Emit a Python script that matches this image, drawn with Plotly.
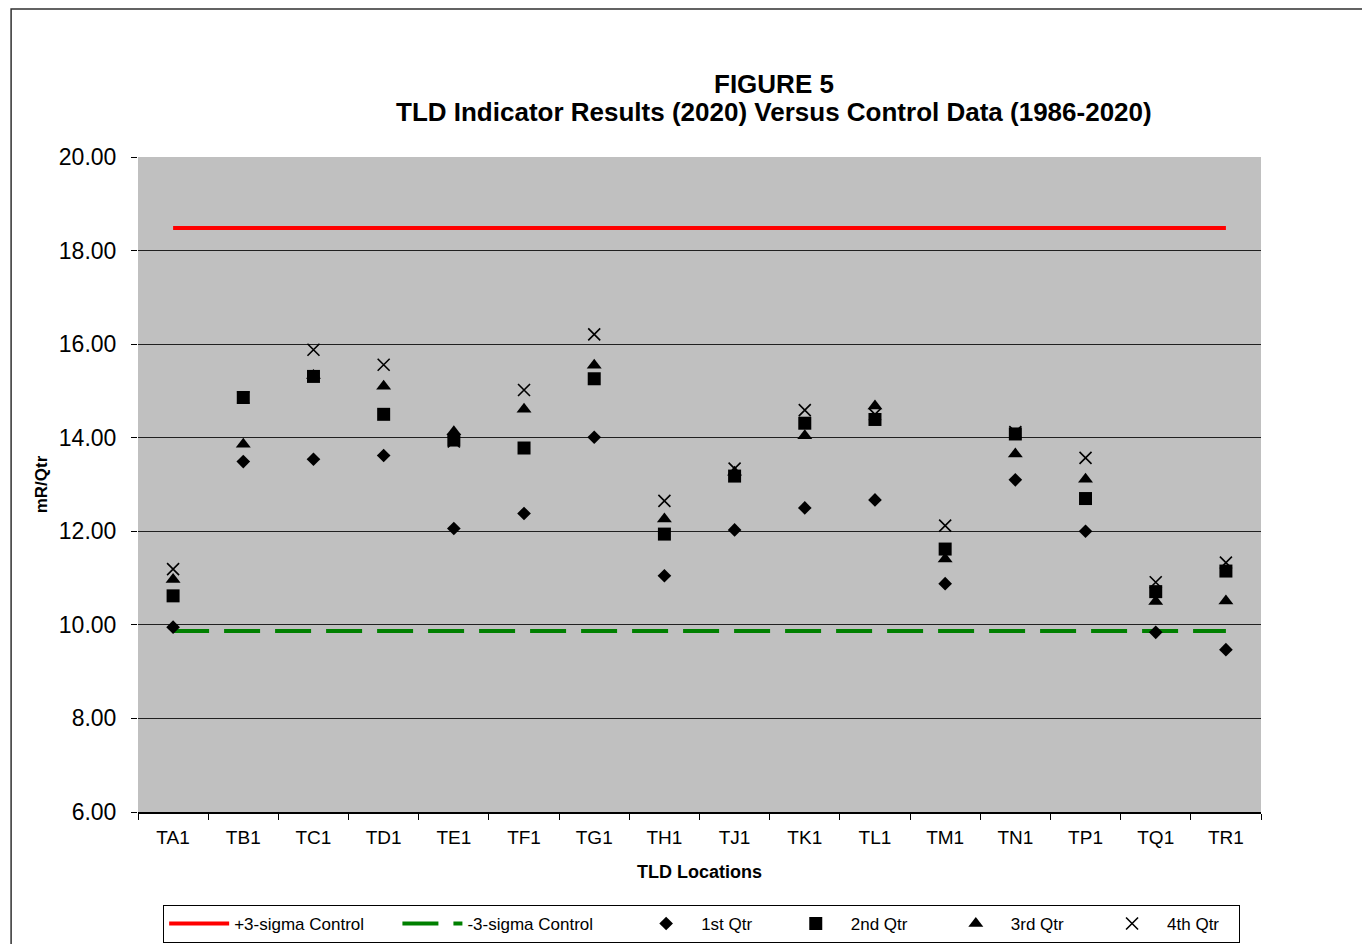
import plotly.graph_objects as go

locations = ["TA1", "TB1", "TC1", "TD1", "TE1", "TF1", "TG1", "TH1",
             "TJ1", "TK1", "TL1", "TM1", "TN1", "TP1", "TQ1", "TR1"]
q1 = [9.95, 13.49, 13.54, 13.62, 12.06, 12.38, 14.01, 11.05,
      12.03, 12.50, 12.67, 10.88, 13.10, 12.00, 9.84, 9.47]
q2 = [10.62, 14.86, 15.31, 14.50, 13.95, 13.78, 15.26, 11.94,
      13.18, 14.31, 14.39, 11.62, 14.08, 12.70, 10.71, 11.15]
q3 = [10.97, 13.86, 15.33, 15.10, 14.13, 14.61, 15.55, 12.26,
      13.26, 14.04, 14.68, 11.41, 13.65, 13.11, 10.50, 10.51]
q4 = [11.19, 14.86, 15.88, 15.56, 13.92, 15.02, 16.21, 12.65,
      13.34, 14.59, 14.50, 12.12, 14.12, 13.57, 10.91, 11.33]
plus_3sigma = 18.48
minus_3sigma = 9.87
y_ticks = [6, 8, 10, 12, 14, 16, 18, 20]

series_names = ["+3-sigma Control", "-3-sigma Control",
                "1st Qtr", "2nd Qtr", "3rd Qtr", "4th Qtr"]

FONT = "Liberation Sans, Arial, sans-serif"
NB = "\u00a0"
# legend label padding (non-breaking spaces) to spread the entries like the original
pad = [6, 7, 5, 6, 6, 3]
labels = [n + NB * p for n, p in zip(series_names, pad)]

fig = go.Figure()
fig.add_trace(go.Scatter(
    x=locations, y=[plus_3sigma] * len(locations), mode="lines",
    name=labels[0], line=dict(color="#ff0000", width=4)))
fig.add_trace(go.Scatter(
    x=locations, y=[minus_3sigma] * len(locations), mode="lines",
    name=labels[1], line=dict(color="#008000", width=4, dash="36px,15px")))
fig.add_trace(go.Scatter(
    x=locations, y=q1, mode="markers", name=labels[2],
    marker=dict(symbol="diamond", size=10.5, color="black")))
fig.add_trace(go.Scatter(
    x=locations, y=q2, mode="markers", name=labels[3],
    marker=dict(symbol="square", size=13, color="black")))
fig.add_trace(go.Scatter(
    x=locations, y=q3, mode="markers", name=labels[4],
    marker=dict(symbol="triangle-up", size=13, color="black")))
fig.add_trace(go.Scatter(
    x=locations, y=q4, mode="markers", name=labels[5],
    marker=dict(symbol="x-thin", size=12, color="black",
                line=dict(color="black", width=1.6))))

fig.update_layout(
    width=1362, height=936,
    margin=dict(l=130, r=109, t=149, b=132),
    paper_bgcolor="white",
    plot_bgcolor="#c0c0c0",
    font=dict(family=FONT, color="black"),
    showlegend=True,
    legend=dict(
        orientation="h", xref="paper", x=0.0224, xanchor="left",
        yref="container", y=0.0214, yanchor="middle",
        bordercolor="black", borderwidth=1, bgcolor="white",
        font=dict(size=17, family=FONT), itemwidth=60,
        traceorder="normal"),
    annotations=[
        dict(text="<b>FIGURE 5</b>", xref="paper", yref="paper",
             x=0.566, y=1.1115, xanchor="center", yanchor="middle",
             showarrow=False, font=dict(size=26, family=FONT)),
        dict(text="<b>TLD Indicator Results (2020) Versus Control Data (1986-2020)</b>",
             xref="paper", yref="paper",
             x=0.566, y=1.0687, xanchor="center", yanchor="middle",
             showarrow=False, font=dict(size=26, family=FONT)),
    ],
    shapes=[dict(type="rect", xref="paper", yref="paper",
                 x0=-0.113, x1=1.0916, y0=-0.3, y1=1.226,
                 line=dict(color="#303030", width=1.5), layer="below")],
)

fig.update_xaxes(
    type="category", range=[-0.5, 15.5],
    showline=True, linecolor="black", linewidth=1.5, mirror=False,
    ticks="outside", tickson="boundaries", ticklen=6, tickcolor="black",
    showgrid=False,
    tickfont=dict(size=19, family=FONT), ticklabelstandoff=7,
    title=dict(text="<b>TLD Locations</b>", font=dict(size=18, family=FONT), standoff=19))
fig.update_yaxes(
    range=[6, 20], tickvals=y_ticks, tickformat=".2f",
    showline=False,
    ticks="outside", ticklen=6, tickcolor="black",
    showgrid=True, gridcolor="#202020", gridwidth=1,
    zeroline=False,
    tickfont=dict(size=23, family=FONT), ticklabelstandoff=10,
    title=dict(text="<b>mR/Qtr</b>", font=dict(size=17, family=FONT), standoff=6))

fig.write_html("out.html")
